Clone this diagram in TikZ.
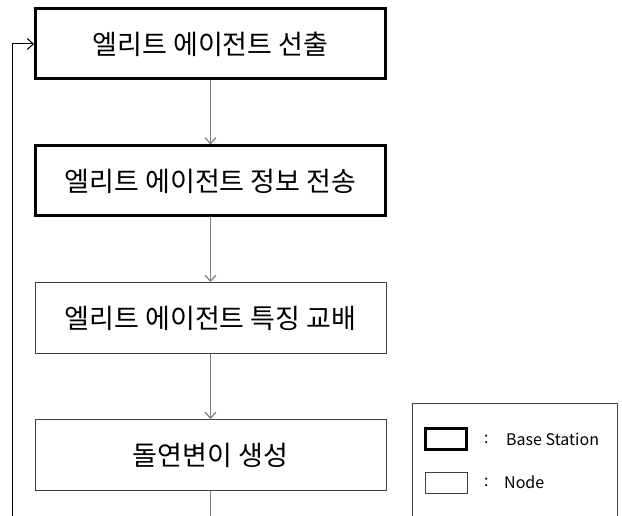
\documentclass[tikz,border=0pt]{standalone}
\usepackage{fontspec}
\setmainfont{Noto Sans CJK KR}
\usetikzlibrary{arrows.meta}
\begin{document}
\begin{tikzpicture}[x=1pt, y=-1pt,
    stationStyle/.style={rectangle, draw, line width=3pt, minimum width=350pt, minimum height=70pt, inner sep=0pt, font=\fontsize{27}{32}\selectfont},
    nodeStyle/.style={rectangle, draw=black!75, line width=1pt, minimum width=351pt, minimum height=71pt, inner sep=0pt, font=\fontsize{27}{32}\selectfont},
    flowStyle/.style={draw=black!50, line width=1.2pt, -{Straight Barb[length=6pt, width=11pt]}},
    legendText/.style={inner sep=0pt, anchor=west, font=\fontsize{16}{19}\selectfont}]
    \useasboundingbox (0,0) rectangle (622,516);
    \clip (0,0) rectangle (622,516);

    \node[stationStyle] (select)   at (210.5,  44) {엘리트 에이전트 선출};
    \node[stationStyle] (send)     at (210.5, 181) {엘리트 에이전트 정보 전송};
    \node[nodeStyle]    (exchange) at (210.5, 318) {엘리트 에이전트 특징 교배};
    \node[nodeStyle]    (mutate)   at (210.5, 455) {돌연변이 생성};

    \coordinate (loopA) at (210.5, 540);
    \coordinate (loopB) at (12, 44);

    \draw[flowStyle] (select.south) -- (send.north);
    \draw[flowStyle] (send.south) -- (exchange.north);
    \draw[flowStyle] (exchange.south) -- (mutate.north);
    \draw[draw=black!50, line width=1.2pt] (mutate.south) -- (loopA);
    \draw[line width=1pt, -{Straight Barb[length=6pt, width=11pt]}] (loopA) -| (loopB) -- (select.west);

    % legend
    \node[rectangle, draw=black!75, line width=1pt, minimum width=205pt, minimum height=140pt, inner sep=0pt] (legend) at (514.5, 473) {};
    \node[rectangle, draw, line width=3pt, minimum width=41pt, minimum height=21pt] (legendS) at (446, 439) {};
    \node[rectangle, draw=black!75, line width=1pt, minimum width=42pt, minimum height=21pt] (legendN) at (446, 483) {};
    \node[legendText] (colonS) at (484, 439) {:};
    \node[legendText] (textS)  at (506, 439) {Base Station};
    \node[legendText] (colonN) at (484, 482) {:};
    \node[legendText] (textN)  at (504, 482) {Node};
\end{tikzpicture}
\end{document}
